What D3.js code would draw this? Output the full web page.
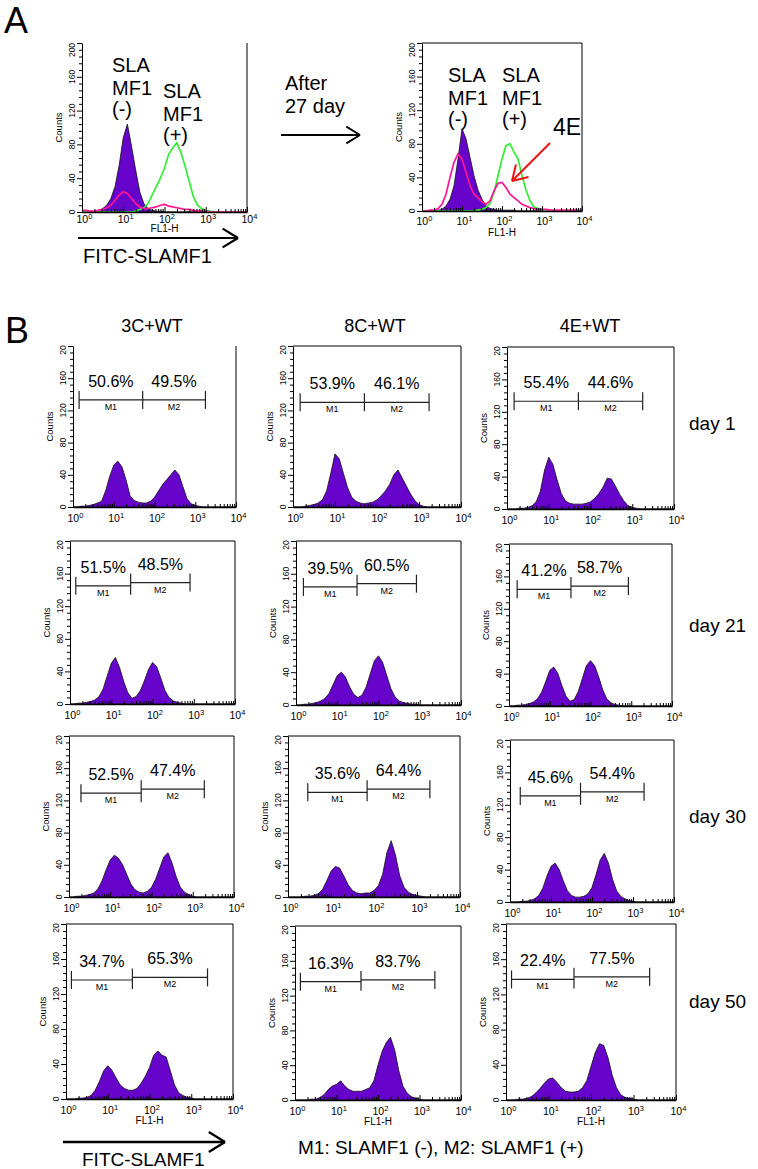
<!DOCTYPE html>
<html>
<head>
<meta charset="utf-8">
<script src="https://cdn.jsdelivr.net/npm/d3@7"></script>
<style>
body { margin: 0; background: #fff; }
svg { font-family: "Liberation Sans", Arial, sans-serif; }
</style>
</head>
<body>
<div id="fig"></div>
<script>
// histogram bins, log10 of FL1-H
var binLog = [0.0,0.1,0.2,0.3,0.4,0.5,0.6,0.7,0.8,0.9,1.0,1.1,1.2,1.3,1.4,1.5,1.6,1.7,1.8,1.9,2.0,
              2.1,2.2,2.3,2.4,2.5,2.6,2.7,2.8,2.9,3.0,3.1,3.2,3.3,3.4,3.5,3.6,3.7,3.8,3.9,4.0];

// panel A, before
var aBeforeNeg = [0,0,0,1,2,4,8,16,30,55,88,104,78,50,24,10,4,2,1,1,0,0,0,0,0,0,0,0,0,0,0,0,0,0,0,0,0,0,0,0,0];
var aBeforePos = [0,0,0,0,0,0,0,0,0,0,0,0,0,1,3,5,10,20,30,40,52,68,76,82,70,54,36,18,8,4,2,1,0,0,0,0,0,0,0,0,0];
var aBefore4E  = [2,2,1,1,2,3,5,8,14,20,24,22,16,10,6,4,4,5,6,8,9,7,6,5,4,3,3,2,1,1,1,0,0,0,0,0,0,0,0,0,0];
// panel A, after 27 day
var aAfterNeg = [0,0,0,0,1,2,6,14,30,62,98,86,64,42,25,14,6,3,2,1,1,1,1,1,0,0,0,0,0,0,0,0,0,0,0,0,0,0,0,0,0];
var aAfterPos = [0,0,0,0,0,0,0,0,0,0,0,0,0,0,1,2,4,9,22,42,62,78,80,70,62,42,25,12,5,3,1,0,0,0,0,0,0,0,0,0,0];
var aAfter4E  = [0,0,1,1,3,8,20,40,58,68,62,46,30,20,16,11,8,12,24,33,34,28,20,16,12,8,6,4,3,2,2,2,1,1,1,1,1,1,1,1,0];

// panel B
var conditions = ["3C+WT", "8C+WT", "4E+WT"];
var days = ["day 1", "day 21", "day 30", "day 50"];

var day1Counts = [
  [0,0,1,1,2,3,5,7,20,38,52,57,50,34,14,8,6,5,5,7,12,20,28,34,40,46,40,25,10,4,2,1,0,0,0,0,0,0,0,0,0],
  [0,0,0,1,2,3,5,9,20,42,66,60,42,24,12,7,5,4,5,6,9,14,20,28,40,46,36,26,16,8,3,1,0,0,0,0,0,0,0,0,0],
  [0,0,0,1,1,2,4,9,22,48,64,55,36,19,10,7,6,6,6,7,9,13,19,27,38,37,28,18,10,4,2,1,0,0,0,0,0,0,0,0,0]
];
var day21Counts = [
  [0,0,1,1,2,3,5,9,18,34,50,57,45,28,14,7,9,16,28,42,51,46,32,17,8,4,2,1,0,0,0,0,0,0,0,0,0,0,0,0,0],
  [0,0,1,1,2,3,5,8,14,25,36,40,34,22,13,9,12,22,38,54,60,52,36,20,10,5,3,2,1,1,0,0,0,0,0,0,0,0,0,0,0],
  [0,0,1,1,2,3,5,9,17,30,44,48,40,25,12,6,8,18,34,50,56,50,36,20,9,4,2,1,0,0,0,0,0,0,0,0,0,0,0,0,0]
];
var day30Counts = [
  [0,0,1,1,2,3,5,10,20,34,46,52,48,40,28,16,9,6,5,7,12,22,36,50,55,42,25,12,6,3,1,0,0,0,0,0,0,0,0,0,0],
  [0,0,0,0,1,1,2,4,9,20,32,38,36,26,15,8,5,4,5,5,8,14,28,55,70,52,26,12,6,3,2,1,0,0,0,0,0,0,0,0,0],
  [0,0,0,1,1,2,4,8,17,32,44,48,40,26,14,8,6,6,7,10,18,34,52,60,48,28,14,7,4,2,1,0,0,0,0,0,0,0,0,0,0]
];
var day50Counts = [
  [0,0,0,1,1,2,4,10,20,32,38,33,24,16,12,10,10,12,18,26,36,50,55,50,48,32,16,7,4,2,1,0,0,0,0,0,0,0,0,0,0],
  [0,0,0,0,1,1,3,6,12,16,18,22,16,12,10,10,10,12,14,22,40,56,66,72,58,34,16,8,4,2,1,0,0,0,0,0,0,0,0,0,0],
  [0,0,0,1,1,2,4,8,13,19,24,25,20,14,10,9,9,10,14,22,38,54,64,62,48,28,14,6,3,2,1,0,0,0,0,0,0,0,0,0,0]
];

var m1Pct = [[50.6, 53.9, 55.4], [51.5, 39.5, 41.2], [52.5, 35.6, 45.6], [34.7, 16.3, 22.4]];
var m2Pct = [[49.5, 46.1, 44.6], [48.5, 60.5, 58.7], [47.4, 64.4, 54.4], [65.3, 83.7, 77.5]];

// marker gates: [M1 start, M1/M2 split, M2 end] in log10 units
var gateLog = [
  [[0.15, 1.71, 3.25], [0.17, 1.70, 3.24], [0.17, 1.71, 3.25]],
  [[0.14, 1.47, 2.91], [0.18, 1.48, 2.92], [0.20, 1.52, 2.93]],
  [[0.29, 1.75, 3.28], [0.46, 1.84, 3.30], [0.25, 1.72, 3.27]],
  [[0.13, 1.59, 3.39], [0.13, 1.59, 3.37], [0.13, 1.60, 3.38]]
];
// marker bar heights in counts: [M1, M2]
var gateLevel = [
  [[133, 133], [130, 130], [133, 133]],
  [[145, 149], [144, 148], [144, 148]],
  [[129, 134], [130, 134], [131, 136]],
  [[136, 139], [136, 138], [137, 140]]
];

var allCounts = [day1Counts, day21Counts, day30Counts, day50Counts];

// layout
var purple = "#6604cc", green = "#33ee33", pink = "#ff1493";
var boxes = [
  [[73, 236, 346, 507], [293, 461, 346, 507], [507, 674, 347, 509]],
  [[70, 235, 541, 704], [296, 461, 541, 705], [509, 672, 544, 706]],
  [[69, 234, 736, 897], [288, 460, 736, 897], [510, 674, 740, 902]],
  [[66, 233, 924, 1099], [295, 461, 926, 1100], [506, 676, 924, 1100]]
];

var svg = d3.select("#fig").append("svg")
    .attr("width", 758)
    .attr("height", 1169);

svg.append("rect").attr("width", 758).attr("height", 1169).attr("fill", "#fff");

var xMajor = [1, 10, 100, 1000, 10000];
var xMinor = [];
[1, 10, 100, 1000].forEach(function(p) {
    for (var m = 2; m <= 9; m++) xMinor.push(m * p);
});
var yMajor = [0, 40, 80, 120, 160, 200];
var yMinor = d3.range(0, 201, 8).filter(function(v) { return v % 40 !== 0; });

function drawPanel(box, cfg) {
    var x = d3.scaleLog().domain([1, 10000]).range([box[0], box[1]]);
    var y = d3.scaleLinear().domain([0, 200]).range([box[3], box[2]]);
    var g = svg.append("g");

    cfg.series.forEach(function(s) {
        var pts = binLog.map(function(l, i) {
            return {v: Math.pow(10, l), c: s.counts[i]};
        });
        if (s.fill) {
            g.append("path").datum(pts)
                .attr("d", d3.area()
                    .x(function(d) { return x(d.v); })
                    .y0(y(0))
                    .y1(function(d) { return y(d.c); }))
                .attr("fill", s.fill)
                .attr("stroke", "#111")
                .attr("stroke-width", 0.8);
        } else {
            g.append("path").datum(pts)
                .attr("d", d3.line()
                    .x(function(d) { return x(d.v); })
                    .y(function(d) { return y(d.c); }))
                .attr("fill", "none")
                .attr("stroke", s.color)
                .attr("stroke-width", 1.7);
        }
    });

    // box
    g.append("line")
        .attr("x1", box[1]).attr("x2", box[1])
        .attr("y1", box[2]).attr("y2", box[3])
        .attr("stroke", "#000").attr("stroke-width", 1);
    if (cfg.top) {
        g.append("line")
            .attr("x1", box[0]).attr("x2", box[1])
            .attr("y1", box[2]).attr("y2", box[2])
            .attr("stroke", "#000").attr("stroke-width", 1);
    }

    // y axis
    g.append("g")
        .attr("transform", "translate(" + box[0] + ",0)")
        .call(d3.axisLeft(y).tickValues(yMinor).tickSize(3).tickSizeOuter(0).tickFormat(""))
        .call(function(a) { a.select(".domain").remove(); });
    g.append("g")
        .attr("transform", "translate(" + box[0] + ",0)")
        .call(d3.axisLeft(y).tickValues(yMajor).tickSize(5).tickSizeOuter(0).tickFormat(""));

    yMajor.forEach(function(v) {
        var ty = y(v) + (v === 200 ? cfg.topShift : 0);
        g.append("text")
            .attr("transform", "translate(" + (box[0] - 7) + "," + ty + ") rotate(-90)")
            .attr("text-anchor", "middle")
            .attr("font-size", 8.5)
            .text(v === 200 ? cfg.topLabel : v);
    });
    g.append("text")
        .attr("transform", "translate(" + (box[0] - 20) + "," + y(100) + ") rotate(-90)")
        .attr("text-anchor", "middle")
        .attr("font-size", 9.5)
        .text("Counts");

    // x axis
    g.append("g")
        .attr("transform", "translate(0," + box[3] + ")")
        .call(d3.axisBottom(x).tickValues(xMinor).tickSize(-3).tickSizeOuter(0).tickFormat(""))
        .call(function(a) { a.select(".domain").remove(); });
    g.append("g")
        .attr("transform", "translate(0," + box[3] + ")")
        .call(d3.axisBottom(x).tickValues(xMajor).tickSize(-5).tickSizeOuter(0).tickFormat(""))
        .call(function(a) { a.select(".domain").attr("stroke-width", 1.3); });

    xMajor.forEach(function(v, k) {
        var t = g.append("text")
            .attr("x", x(v) - 5.5)
            .attr("y", box[3] + cfg.tickDy)
            .attr("font-size", 10.5);
        t.append("tspan").text("10");
        t.append("tspan").attr("dy", -4).attr("font-size", 7.5).text(k);
    });
    if (cfg.fl) {
        g.append("text")
            .attr("x", (box[0] + box[1]) / 2)
            .attr("y", box[3] + cfg.flDy)
            .attr("text-anchor", "middle")
            .attr("font-size", 10)
            .text("FL1-H");
    }

    // M1 / M2 markers
    if (cfg.gate) {
        var gl = cfg.gate, lv = cfg.level;
        var xa = x(Math.pow(10, gl[0])), xb = x(Math.pow(10, gl[1])), xc = x(Math.pow(10, gl[2]));
        var ya = y(lv[0]), yb = y(lv[1]);
        var segs = [[xa, xb, ya], [xb, xc, yb]];
        segs.forEach(function(s) {
            g.append("line").attr("x1", s[0]).attr("x2", s[1]).attr("y1", s[2]).attr("y2", s[2])
                .attr("stroke", "#222").attr("stroke-width", 1.2);
        });
        [[xa, ya - 9, ya + 9], [xb, Math.min(ya, yb) - 9, Math.max(ya, yb) + 9], [xc, yb - 9, yb + 9]]
            .forEach(function(t) {
                g.append("line").attr("x1", t[0]).attr("x2", t[0]).attr("y1", t[1]).attr("y2", t[2])
                    .attr("stroke", "#222").attr("stroke-width", 1.2);
            });
        g.append("text").attr("x", (xa + xb) / 2).attr("y", ya + 10)
            .attr("text-anchor", "middle").attr("font-size", 9).text("M1");
        g.append("text").attr("x", (xb + xc) / 2).attr("y", yb + 10)
            .attr("text-anchor", "middle").attr("font-size", 9).text("M2");
        g.append("text").attr("x", (xa + xb) / 2).attr("y", ya - 13)
            .attr("text-anchor", "middle").attr("font-size", 16).text(d3.format(".1f")(cfg.pct[0]) + "%");
        g.append("text").attr("x", (xb + xc) / 2).attr("y", yb - 13)
            .attr("text-anchor", "middle").attr("font-size", 16).text(d3.format(".1f")(cfg.pct[1]) + "%");
    }
}

function arrow(x1, y1, x2, y2, head, color, w) {
    var ang = Math.atan2(y2 - y1, x2 - x1);
    var g = svg.append("g").attr("stroke", color).attr("stroke-width", w).attr("fill", "none");
    g.append("line").attr("x1", x1).attr("y1", y1).attr("x2", x2).attr("y2", y2);
    [-0.55, 0.55].forEach(function(da) {
        g.append("line")
            .attr("x1", x2).attr("y1", y2)
            .attr("x2", x2 - head * Math.cos(ang + da))
            .attr("y2", y2 - head * Math.sin(ang + da));
    });
}

function stack(xp, ys, lines, size) {
    lines.forEach(function(l, i) {
        svg.append("text").attr("x", xp).attr("y", ys[i]).attr("font-size", size).text(l);
    });
}

// ---- panel A
svg.append("text").attr("x", 4).attr("y", 33).attr("font-size", 36).text("A");

drawPanel([82, 247, 43, 212], {
    series: [{counts: aBeforeNeg, fill: purple}, {counts: aBeforePos, color: green}, {counts: aBefore4E, color: pink}],
    top: false, topLabel: "200", topShift: 7, tickDy: 11, fl: true, flDy: 20
});
drawPanel([422, 582, 43, 211], {
    series: [{counts: aAfterNeg, fill: purple}, {counts: aAfterPos, color: green}, {counts: aAfter4E, color: pink}],
    top: true, topLabel: "200", topShift: 7, tickDy: 14, fl: true, flDy: 25
});

stack(112, [72, 95, 116], ["SLA", "MF1", "(-)"], 20);
stack(163, [98, 121, 142], ["SLA", "MF1", "(+)"], 20);
stack(448, [82, 105, 126], ["SLA", "MF1", "(-)"], 20);
stack(502, [82, 105, 126], ["SLA", "MF1", "(+)"], 20);
stack(285, [90, 113], ["After", "27 day"], 20);
svg.append("text").attr("x", 553).attr("y", 135).attr("font-size", 23).text("4E");

arrow(281, 135, 360, 135, 16, "#000", 1.8);
arrow(550, 143, 512, 181, 17, "#ee1111", 2);
arrow(78, 238, 238, 238, 18, "#000", 2.2);
svg.append("text").attr("x", 83).attr("y", 263).attr("font-size", 20).text("FITC-SLAMF1");

// ---- panel B
svg.append("text").attr("x", 5).attr("y", 343).attr("font-size", 36).text("B");

var titleX = [152, 375, 590];
conditions.forEach(function(c, j) {
    svg.append("text").attr("x", titleX[j]).attr("y", 332)
        .attr("text-anchor", "middle").attr("font-size", 18).text(c);
});

var dayY = [430, 632, 823, 1008];
days.forEach(function(d, i) {
    svg.append("text").attr("x", 689).attr("y", dayY[i]).attr("font-size", 19).text(d);
    conditions.forEach(function(c, j) {
        drawPanel(boxes[i][j], {
            series: [{counts: allCounts[i][j], fill: purple}],
            top: !(i === 0 && j === 0),
            topLabel: "20", topShift: 4,
            tickDy: 15, fl: i === 3, flDy: 25,
            gate: gateLog[i][j], level: gateLevel[i][j],
            pct: [m1Pct[i][j], m2Pct[i][j]]
        });
    });
});

arrow(63, 1142, 225, 1142, 19, "#000", 2.4);
svg.append("text").attr("x", 82).attr("y", 1166).attr("font-size", 19).text("FITC-SLAMF1");
svg.append("text").attr("x", 298).attr("y", 1154).attr("font-size", 19).text("M1: SLAMF1 (-), M2: SLAMF1 (+)");
</script>
</body>
</html>
